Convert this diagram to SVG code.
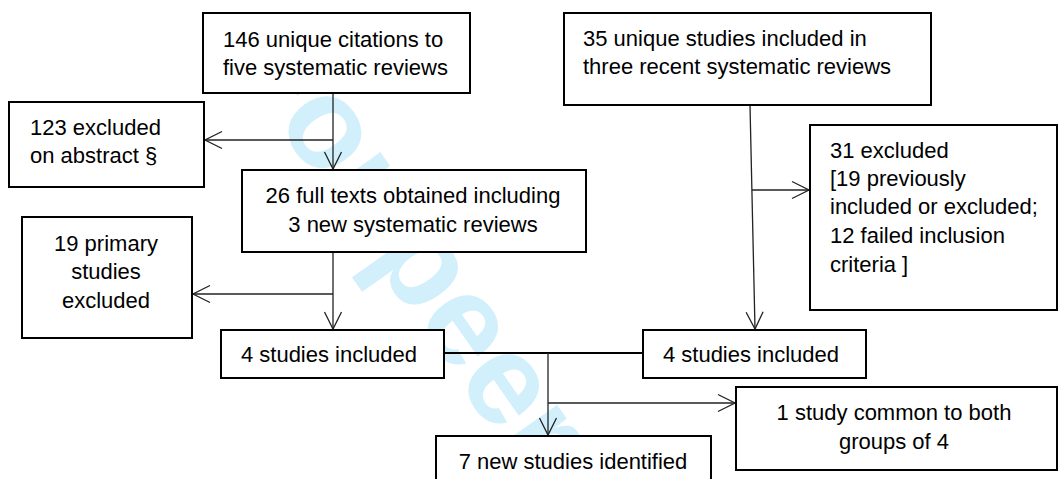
<svg xmlns="http://www.w3.org/2000/svg" width="1064" height="479" viewBox="0 0 1064 479">
<style>
.box{fill:#fff;stroke:#000;stroke-width:2}
.t{font-family:"Liberation Sans",Arial,sans-serif;font-size:22px;fill:#000}
.c{text-anchor:middle}
.ln{fill:none;stroke:#222;stroke-width:1.3}
.thick{fill:none;stroke:#000;stroke-width:2.2}
.wm{font-family:"Liberation Sans",Arial,sans-serif;font-size:129px;font-weight:bold;fill:#d2effc}
</style>
<defs>
<marker id="ah" markerUnits="userSpaceOnUse" markerWidth="20" markerHeight="20" viewBox="-18 -10 20 20" refX="0" refY="0" orient="auto">
<path d="M-17,-8.5 L0,0 L-17,8.5" fill="none" stroke="#222" stroke-width="1.3"/>
</marker>
</defs>
<rect width="1064" height="479" fill="#fff"/>
<text class="wm" transform="translate(229,55) rotate(55)">For peer</text>
<g id="connectors">
<line class="ln" x1="333" y1="93" x2="333" y2="169" marker-end="url(#ah)"/>
<line class="ln" x1="333" y1="140" x2="205" y2="140" marker-end="url(#ah)"/>
<line class="ln" x1="333" y1="252" x2="333" y2="329" marker-end="url(#ah)"/>
<line class="ln" x1="333" y1="294" x2="193" y2="294" marker-end="url(#ah)"/>
<line class="ln" x1="750" y1="105" x2="755" y2="329" marker-end="url(#ah)"/>
<line class="ln" x1="752" y1="190" x2="809" y2="190" marker-end="url(#ah)"/>
<line class="thick" x1="444" y1="353" x2="643" y2="353"/>
<line class="ln" x1="548" y1="353" x2="548" y2="435" marker-end="url(#ah)"/>
<line class="ln" x1="548" y1="403" x2="735" y2="403" marker-end="url(#ah)"/>
</g>
<g id="n1"><rect class="box" x="203" y="13" width="267" height="80"/>
<text class="t" x="223" y="47">146 unique citations to</text>
<text class="t" x="223" y="75">five systematic reviews</text></g>
<g id="n2"><rect class="box" x="9" y="102" width="195" height="85"/>
<text class="t" x="30" y="135">123 excluded</text>
<text class="t" x="30" y="163">on abstract §</text></g>
<g id="n3"><rect class="box" x="242" y="170" width="344" height="82"/>
<text class="t c" x="413" y="203">26 full texts obtained including</text>
<text class="t c" x="413" y="232">3 new systematic reviews</text></g>
<g id="n4"><rect class="box" x="22" y="217" width="170" height="121"/>
<text class="t c" x="106" y="251">19 primary</text>
<text class="t c" x="106" y="279">studies</text>
<text class="t c" x="106" y="308">excluded</text></g>
<g id="n5"><rect class="box" x="221" y="330" width="223" height="48"/>
<text class="t c" x="329" y="362">4 studies included</text></g>
<g id="n6"><rect class="box" x="643" y="330" width="223" height="48"/>
<text class="t c" x="751" y="362">4 studies included</text></g>
<g id="n7"><rect class="box" x="436" y="436" width="275" height="60"/>
<text class="t c" x="573" y="469">7 new studies identified</text></g>
<g id="n8"><rect class="box" x="736" y="387" width="321" height="83"/>
<text class="t c" x="894" y="420">1 study common to both</text>
<text class="t c" x="894" y="449">groups of 4</text></g>
<g id="n9"><rect class="box" x="564" y="13" width="367" height="92"/>
<text class="t" x="583" y="46">35 unique studies included in</text>
<text class="t" x="583" y="74">three recent systematic reviews</text></g>
<g id="n10"><rect class="box" x="810" y="125" width="247" height="185"/>
<text class="t" x="830" y="158">31 excluded</text>
<text class="t" x="830" y="186">[19 previously</text>
<text class="t" x="830" y="214">included or excluded;</text>
<text class="t" x="830" y="243">12 failed inclusion</text>
<text class="t" x="830" y="272">criteria ]</text></g>
</svg>
